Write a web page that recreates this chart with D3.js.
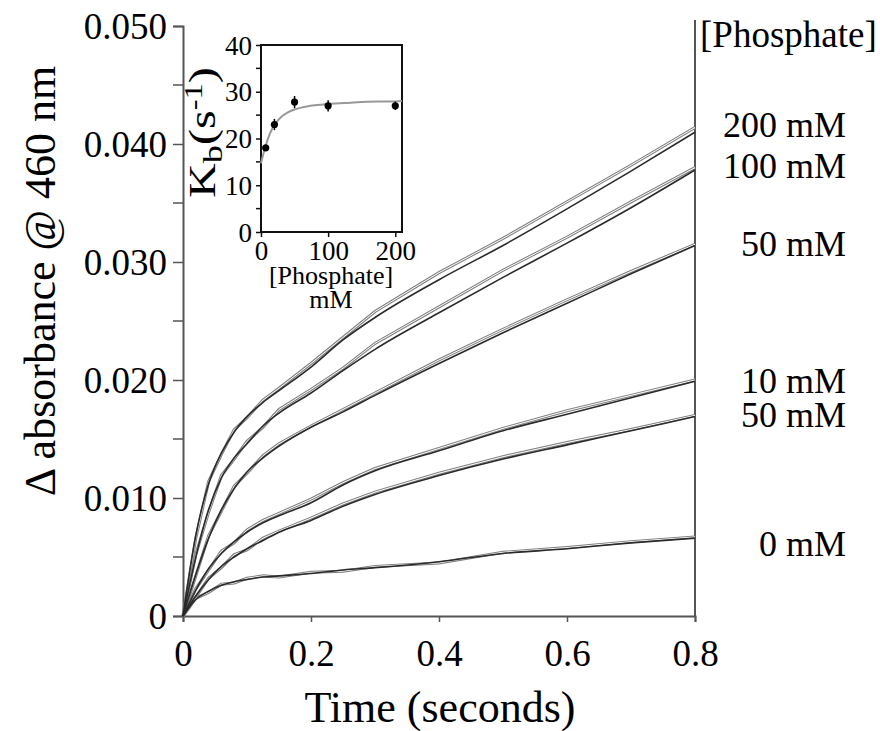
<!DOCTYPE html>
<html>
<head>
<meta charset="utf-8">
<script src="https://cdn.jsdelivr.net/npm/d3@7"></script>
<style>
  body { margin: 0; background: #fff; }
  svg text { font-family: "Liberation Serif", "Times New Roman", serif; fill: #000; }
</style>
</head>
<body>
<div id="chart"></div>
<script>
// time points (seconds) where the traces were read
var timePts = [0, 0.02, 0.04, 0.06, 0.08, 0.1, 0.125, 0.15, 0.2, 0.25, 0.3, 0.4, 0.5, 0.6, 0.7, 0.8];

// fitted curves (delta absorbance)
var fit200 = [0, 0.0068, 0.0112, 0.0138, 0.0156, 0.0169, 0.0181, 0.0191, 0.0211, 0.0234, 0.0253, 0.0285, 0.0314, 0.0345, 0.0377, 0.0410];
var fit100 = [0, 0.0050, 0.0090, 0.0117, 0.0134, 0.0146, 0.0161, 0.0172, 0.0189, 0.0208, 0.0226, 0.0257, 0.0287, 0.0316, 0.0346, 0.0378];
var fit50a = [0, 0.0035, 0.0066, 0.0090, 0.0108, 0.0122, 0.0134, 0.0144, 0.0160, 0.0173, 0.0187, 0.0214, 0.0240, 0.0265, 0.0290, 0.0314];
var fit10  = [0, 0.0022, 0.0040, 0.0053, 0.0063, 0.0071, 0.0079, 0.0085, 0.0096, 0.0111, 0.0123, 0.0140, 0.0157, 0.0171, 0.0185, 0.0199];
var fit50b = [0, 0.0017, 0.0031, 0.0042, 0.0050, 0.0057, 0.0064, 0.0071, 0.0081, 0.0093, 0.0103, 0.0119, 0.0133, 0.0145, 0.0157, 0.0169];
var fit0   = [0, 0.0014, 0.0021, 0.0026, 0.0029, 0.0031, 0.0033, 0.0034, 0.0036, 0.0039, 0.0041, 0.0046, 0.0053, 0.0057, 0.0062, 0.0066];

// observed traces
var obs200 = [0, 0.0066, 0.0114, 0.0137, 0.0158, 0.0168, 0.0183, 0.0193, 0.0214, 0.0236, 0.0258, 0.0291, 0.0320, 0.0351, 0.0382, 0.0414];
var obs100 = [0, 0.0052, 0.0088, 0.0119, 0.0133, 0.0148, 0.0160, 0.0175, 0.0192, 0.0210, 0.0231, 0.0262, 0.0293, 0.0321, 0.0351, 0.0380];
var obs50a = [0, 0.0034, 0.0068, 0.0089, 0.0110, 0.0121, 0.0136, 0.0146, 0.0161, 0.0175, 0.0189, 0.0217, 0.0243, 0.0268, 0.0292, 0.0315];
var obs10  = [0, 0.0023, 0.0039, 0.0055, 0.0062, 0.0073, 0.0081, 0.0087, 0.0099, 0.0113, 0.0125, 0.0142, 0.0159, 0.0174, 0.0187, 0.0200];
var obs50b = [0, 0.0016, 0.0032, 0.0041, 0.0052, 0.0056, 0.0066, 0.0072, 0.0083, 0.0095, 0.0105, 0.0121, 0.0135, 0.0147, 0.0158, 0.0170];
var obs0   = [0, 0.0015, 0.0020, 0.0027, 0.0028, 0.0032, 0.0034, 0.0033, 0.0037, 0.0038, 0.0042, 0.0045, 0.0054, 0.0058, 0.0063, 0.0067];

var seriesLabels = ["200 mM", "100 mM", "50 mM", "10 mM", "50 mM", "0 mM"];
var fits = [fit200, fit100, fit50a, fit10, fit50b, fit0];
var observed = [obs200, obs100, obs50a, obs10, obs50b, obs0];

var yMajor = [0, 0.01, 0.02, 0.03, 0.04, 0.05];
var yMinor = [0.005, 0.015, 0.025, 0.035, 0.045];
var xTicks = [0, 0.2, 0.4, 0.6, 0.8];

// inset: Kb vs [phosphate]
var insetConc = [7, 20, 50, 100, 200];
var insetKb = [18, 23, 27.8, 27, 27];
var insetErr = [0.6, 1.2, 1.3, 1.2, 0.9];
var insetFitX = [0, 5, 10, 15, 20, 30, 40, 50, 60, 80, 100, 125, 150, 175, 200, 210];
var insetFitY = [14.7, 17.5, 19.8, 21.6, 22.9, 24.6, 25.6, 26.2, 26.6, 27.1, 27.4, 27.6, 27.8, 27.9, 27.9, 28];
var insetYTicks = [0, 10, 20, 30, 40];
var insetYMinor = [5, 15, 25, 35];
var insetXTicks = [0, 100, 200];

var W = 880, H = 731;
var svg = d3.select("#chart").append("svg").attr("width", W).attr("height", H);

var x = d3.scaleLinear().domain([0, 0.8]).range([183, 695]);
var y = d3.scaleLinear().domain([0, 0.05]).range([616, 26]);
var axisCol = "#555";

// y axis
var yAxis = svg.append("g").attr("transform", "translate(183,0)")
  .call(d3.axisLeft(y).tickValues(yMajor).tickSize(10).tickPadding(6)
    .tickFormat(function(d){ return d === 0 ? "0" : d3.format(".3f")(d); }));
yAxis.select(".domain").attr("stroke", axisCol).attr("stroke-width", 2);
yAxis.selectAll(".tick line").attr("stroke", axisCol).attr("stroke-width", 1.5);
yAxis.selectAll(".tick text").attr("font-size", 37).attr("font-family", "Liberation Serif").attr("dy", "0.34em");
yAxis.selectAll(".minor").data(yMinor).enter().append("line")
  .attr("x1", -10).attr("x2", 0)
  .attr("y1", function(d){ return y(d); }).attr("y2", function(d){ return y(d); })
  .attr("stroke", axisCol).attr("stroke-width", 1.5);

// x axis
var xAxis = svg.append("g").attr("transform", "translate(0,616)")
  .call(d3.axisBottom(x).tickValues(xTicks).tickSize(6).tickPadding(18)
    .tickFormat(function(d){ return d === 0 ? "0" : d3.format(".1f")(d); }));
xAxis.select(".domain").attr("stroke", axisCol).attr("stroke-width", 2);
xAxis.selectAll(".tick line").attr("stroke", axisCol).attr("stroke-width", 1.5);
xAxis.selectAll(".tick text").attr("font-size", 37).attr("font-family", "Liberation Serif");

// right border
svg.append("line").attr("x1", 695).attr("x2", 695).attr("y1", 20).attr("y2", 616)
  .attr("stroke", axisCol).attr("stroke-width", 2);

// axis titles
svg.append("text").attr("x", 440).attr("y", 722).attr("text-anchor", "middle")
  .attr("font-size", 44).text("Time (seconds)");
svg.append("text").attr("transform", "translate(55,281) rotate(-90)").attr("text-anchor", "middle")
  .attr("font-size", 44).text("\u0394 absorbance @ 460 nm");

// traces
var line = d3.line()
  .x(function(d){ return x(d[0]); })
  .y(function(d){ return y(d[1]); });
var fitLine = d3.line()
  .x(function(d){ return x(d[0]); })
  .y(function(d){ return y(d[1]); })
  .curve(d3.curveMonotoneX);

var traces = svg.append("g");
observed.forEach(function(s){
  var pts = timePts.map(function(t, i){ return [t, s[i]]; });
  traces.append("path").attr("d", line(pts)).attr("fill", "none")
    .attr("stroke", "#808080").attr("stroke-width", 3);
  traces.append("path").attr("d", line(pts)).attr("fill", "none")
    .attr("stroke", "#fff").attr("stroke-width", 1);
});
fits.forEach(function(s){
  var pts = timePts.map(function(t, i){ return [t, s[i]]; });
  traces.append("path").attr("d", fitLine(pts)).attr("fill", "none")
    .attr("stroke", "#2a2a2a").attr("stroke-width", 1.6);
});

// legend labels at right
svg.append("text").attr("x", 700).attr("y", 47).attr("font-size", 37).text("[Phosphate]");
var labelBase = [137, 178, 256, 393, 427, 556];
svg.selectAll(".slabel").data(seriesLabels).enter().append("text")
  .attr("x", 846).attr("y", function(d, i){ return labelBase[i]; })
  .attr("text-anchor", "end").attr("font-size", 36).text(function(d){ return d; });

// inset
var ix = d3.scaleLinear().domain([0, 210]).range([261, 402]);
var iy = d3.scaleLinear().domain([0, 40]).range([232, 45]);
var inset = svg.append("g");
inset.append("rect").attr("x", 261).attr("y", 45).attr("width", 141).attr("height", 187)
  .attr("fill", "#fff").attr("stroke", "#111").attr("stroke-width", 2);

var iyAxis = inset.append("g").attr("transform", "translate(261,0)")
  .call(d3.axisLeft(iy).tickValues(insetYTicks).tickSize(5).tickPadding(4));
iyAxis.select(".domain").remove();
iyAxis.selectAll(".tick line").attr("stroke", "#111").attr("stroke-width", 1.5);
iyAxis.selectAll(".tick text").attr("font-size", 27).attr("font-family", "Liberation Serif").attr("dy", "0.34em");
inset.selectAll(".iminor").data(insetYMinor).enter().append("line")
  .attr("x1", 256).attr("x2", 261)
  .attr("y1", function(d){ return iy(d); }).attr("y2", function(d){ return iy(d); })
  .attr("stroke", "#111").attr("stroke-width", 1.5);

var ixAxis = inset.append("g").attr("transform", "translate(0,232)")
  .call(d3.axisBottom(ix).tickValues(insetXTicks).tickSize(5).tickPadding(4));
ixAxis.select(".domain").remove();
ixAxis.selectAll(".tick line").attr("stroke", "#111").attr("stroke-width", 1.5);
ixAxis.selectAll(".tick text").attr("font-size", 27).attr("font-family", "Liberation Serif");

inset.append("text").attr("x", 331).attr("y", 284).attr("text-anchor", "middle")
  .attr("font-size", 26).text("[Phosphate]");
inset.append("text").attr("x", 331).attr("y", 308).attr("text-anchor", "middle")
  .attr("font-size", 26).text("mM");

// Kb (s-1) label, stretched along its length like the reference
var kLabel = inset.append("text").attr("transform", "translate(215,198) rotate(-90) scale(1.3,1)")
  .attr("font-size", 37);
kLabel.append("tspan").text("K");
kLabel.append("tspan").attr("font-size", 28).attr("dy", 7).text("b");
kLabel.append("tspan").attr("dy", -7).text("(s");
kLabel.append("tspan").attr("font-size", 25).attr("dy", -13).text("-1");
kLabel.append("tspan").attr("dy", 13).text(")");

var insetFit = insetFitX.map(function(v, i){ return [v, insetFitY[i]]; });
inset.append("path")
  .attr("d", d3.line().x(function(d){ return ix(d[0]); }).y(function(d){ return iy(d[1]); })
    .curve(d3.curveMonotoneX)(insetFit))
  .attr("fill", "none").attr("stroke", "#999").attr("stroke-width", 2);

inset.selectAll(".err").data(insetConc).enter().append("line")
  .attr("x1", function(d){ return ix(d); }).attr("x2", function(d){ return ix(d); })
  .attr("y1", function(d, i){ return iy(insetKb[i] - insetErr[i]); })
  .attr("y2", function(d, i){ return iy(insetKb[i] + insetErr[i]); })
  .attr("stroke", "#000").attr("stroke-width", 1.5);
inset.selectAll(".pt").data(insetConc).enter().append("circle")
  .attr("cx", function(d){ return ix(d); })
  .attr("cy", function(d, i){ return iy(insetKb[i]); })
  .attr("r", 3.6).attr("fill", "#000");
</script>
</body>
</html>
